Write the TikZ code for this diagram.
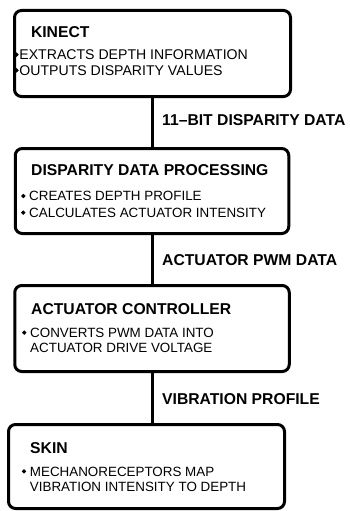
\documentclass[tikz,border=0pt]{standalone}
\usepackage{fontspec}
\setmainfont{Liberation Sans}
\begin{document}
\begin{tikzpicture}[x=1pt,y=-1pt,
  box/.style={draw=black,line width=3pt,rounded corners=7pt,inner sep=0pt,fill=white},
  title/.style={anchor=base west,inner sep=0pt,font=\fontsize{15.7}{18}\selectfont\bfseries},
  lbl/.style={anchor=base west,inner sep=0pt,font=\fontsize{15.7}{18}\selectfont\bfseries},
  body/.style={anchor=base west,inner sep=0pt,font=\fontsize{13.4}{16}\selectfont},
  bodywide/.style={anchor=base west,inner sep=0pt,font=\fontsize{14.1}{16}\selectfont},
  dot/.style={circle,fill=black,draw=black,line width=0.6pt,inner sep=0pt,minimum size=3.6pt},
  conn/.style={line width=3pt}]
\useasboundingbox (0,0) rectangle (349,511);
% boxes
\node[box,minimum width=276pt,minimum height=86pt] (b1) at (152.5,53.5) {};
\node[box,minimum width=273.5pt,minimum height=85pt] (b2) at (152,191) {};
\node[box,minimum width=274.5pt,minimum height=86pt] (b3) at (152,328.5) {};
\node[box,minimum width=276pt,minimum height=84pt] (b4) at (146.5,466.5) {};
% connectors
\coordinate (c4) at (152,424.5);
\draw[conn] ([xshift=-0.5pt]b1.south) -- (b2.north);
\draw[conn] (b2.south) -- (b3.north);
\draw[conn] (b3.south) -- (c4);
% connector labels
\node[lbl] (l1) at (162,125.5) {11--BIT DISPARITY DATA};
\node[lbl] (l2) at (162,265) {ACTUATOR PWM DATA};
\node[lbl] (l3) at (162,404) {VIBRATION PROFILE};
% box 1
\node[title] (t1) at (30.8,37.3) {KINECT};
\node[dot] (d11) at (16.5,54.6) {};
\node[bodywide] (s11) at (19.2,59.3) {EXTRACTS DEPTH INFORMATION};
\node[dot] (d12) at (16.5,70.3) {};
\node[bodywide] (s12) at (19.2,75) {OUTPUTS DISPARITY VALUES};
% box 2
\node[title] (t2) at (31,175.7) {DISPARITY DATA PROCESSING};
\node[dot] (d21) at (23.3,196) {};
\node[body] (s21) at (29,200.7) {CREATES DEPTH PROFILE};
\node[dot] (d22) at (23.3,212.6) {};
\node[body] (s22) at (29,217.3) {CALCULATES ACTUATOR INTENSITY};
% box 3
\node[title] (t3) at (31,314) {ACTUATOR CONTROLLER};
\node[dot] (d31) at (24.3,332.6) {};
\node[body] (s31) at (30,337.3) {CONVERTS PWM DATA INTO};
\node[body] (s32) at (30,352.3) {ACTUATOR DRIVE VOLTAGE};
% box 4
\node[title] (t4) at (30,453.3) {SKIN};
\node[dot] (d41) at (24,471.3) {};
\node[body] (s41) at (29.7,476) {MECHANORECEPTORS MAP};
\node[body] (s42) at (29.7,491.5) {VIBRATION INTENSITY TO DEPTH};
\end{tikzpicture}
\end{document}
